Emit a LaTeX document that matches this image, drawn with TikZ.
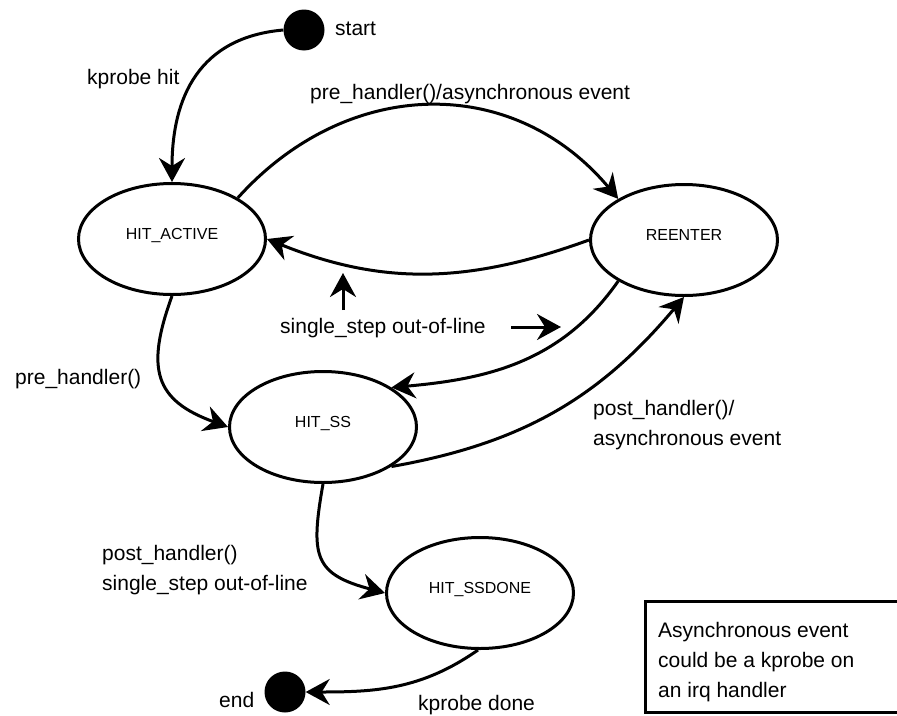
\documentclass[tikz,border=0pt]{standalone}
\usepackage{fontspec}
\setmainfont{Liberation Sans}
\usetikzlibrary{shapes.geometric,arrows.meta}
\tikzset{
  state/.style={draw, line width=3pt, ellipse, minimum width=187pt, minimum height=111pt,
    inner sep=0pt, font=\fontsize{16}{18}\selectfont, text height=11.5pt, text depth=10pt},
  dot/.style={circle, fill=black, minimum size=41pt, inner sep=0pt},
  lbl/.style={anchor=base west, inner sep=0pt, font=\fontsize{21}{30}\selectfont, align=left},
  conn/.style={line width=3pt, -{Stealth[length=24pt, width=26pt, inset=8pt]}},
}
\begin{document}
\begin{tikzpicture}[x=1pt,y=1pt]
\useasboundingbox (0,0) rectangle (897,-715);
\clip (0,0) rectangle (897,-715);

% states
\node[dot] (start) at (304,-30) {};
\node[dot] (end) at (285,-692) {};
\node[state] (ha) at (172,-239) {HIT\_ACTIVE};
\node[state] (re) at (684,-240) {REENTER};
\node[state] (ss) at (323,-427) {HIT\_SS};
\node[state] (ssd) at (480,-593) {HIT\_SSDONE};

% labels
\node[lbl] (lstart) at (335,-35) {start};
\node[lbl] (lend) at (219,-707) {end};
\node[lbl] (lhit) at (87,-84) {kprobe hit};
\node[lbl] (lpre) at (310,-99) {pre\_handler()/asynchronous event};
\node[lbl] (lsso) at (280,-333) {single\_step out-of-line};
\node[lbl] (lpreh) at (15,-384) {pre\_handler()};
\node[lbl] (lpost) at (593,-445) {post\_handler()/\\asynchronous event};
\node[lbl] (lpost2) at (102,-590) {post\_handler()\\single\_step out-of-line};
\node[lbl] (ldone) at (418,-710) {kprobe done};

% note box
\draw[line width=3pt] (645,-601) rectangle (905,-712.5);
\node[lbl] (note) at (658,-697) {Asynchronous event\\could be a kprobe on\\an irq handler};

% pointer arrows
\coordinate (pu1) at (343,-310);
\coordinate (pu2) at (343,-273);
\coordinate (pr1) at (511,-327);
\coordinate (pr2) at (561,-327);
\draw[conn] (pu1) -- (pu2);
\draw[conn] (pr1) -- (pr2);

% transitions
\draw[conn] (start.west) to[out=185, in=90, looseness=1.15] (ha.north);
\draw[conn] (ha.32) to[out=48, in=130, looseness=1.1] (re.148);
\draw[conn] (re.180) to[out=200, in=-22] (ha.0);
\draw[conn] (re.212) to[out=235, in=5] (ss.30);
\draw[conn] (ss.-30) to[out=10, in=230] (re.270);
\draw[conn] (ha.270) to[out=250, in=160, looseness=1.4] (ss.180);
\draw[conn] (ss.270) to[out=260, in=165, looseness=1.5] (ssd.180);
\draw[conn] (ssd.268) to[out=215, in=0] (end.0);
\end{tikzpicture}
\end{document}
